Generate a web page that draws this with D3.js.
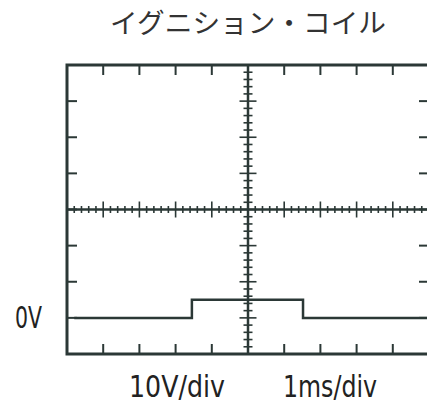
<!DOCTYPE html>
<html>
<head>
<meta charset="utf-8">
<script src="https://cdn.jsdelivr.net/npm/d3@7"></script>
<style>
  html, body { margin: 0; padding: 0; background: #fff; }
  svg { display: block; }
</style>
</head>
<body>
<div id="chart"></div>
<script>
// waveform: time in ms, voltage in V
const timeMs = [0.2, 3.45, 3.45, 6.52, 6.52, 10];
const volts = [0, 0, 5, 5, 0, 0];

const titleText = "イグニション・コイル";
const zeroLabel = "0V";
const voltDivLabel = "10V/div";
const timeDivLabel = "1ms/div";

const width = 427, height = 406;
const ink = "#2b3836";

const svg = d3.select("#chart").append("svg")
    .attr("width", width)
    .attr("height", height);

// screen is 10 x 8 divisions; 0V sits 1 div above the bottom
const x = d3.scaleLinear().domain([0, 10]).range([67, 429]);
const y = d3.scaleLinear().domain([-10, 70]).range([354, 65]);

const xMid = x(5), yMid = y(30);

// title
svg.append("text")
    .attr("x", 110).attr("y", 33)
    .attr("textLength", 276)
    .attr("lengthAdjust", "spacingAndGlyphs")
    .style("font-family", "'Noto Sans CJK JP'")
    .style("font-size", "27px")
    .attr("fill", "#333")
    .text(titleText);

const g = svg.append("g")
    .attr("stroke", ink)
    .attr("fill", "none");

// frame
g.append("rect")
    .attr("x", x(0)).attr("y", y(70))
    .attr("width", x(10) - x(0))
    .attr("height", y(-10) - y(70))
    .attr("stroke-width", 3);

// frame ticks (pointing inward)
const xDivs = d3.range(1, 10);
const yDivs = d3.range(0, 70, 10);
const tickLen = 10;

g.selectAll(".ttop").data(xDivs).join("line")
    .attr("x1", d => x(d)).attr("x2", d => x(d))
    .attr("y1", y(70)).attr("y2", y(70) + tickLen)
    .attr("stroke-width", 2);
g.selectAll(".tbot").data(xDivs).join("line")
    .attr("x1", d => x(d)).attr("x2", d => x(d))
    .attr("y1", y(-10)).attr("y2", y(-10) - tickLen)
    .attr("stroke-width", 2);
g.selectAll(".tleft").data(yDivs).join("line")
    .attr("x1", x(0)).attr("x2", x(0) + tickLen)
    .attr("y1", d => y(d)).attr("y2", d => y(d))
    .attr("stroke-width", 2);
g.selectAll(".tright").data(yDivs).join("line")
    .attr("x1", x(10)).attr("x2", x(10) - tickLen)
    .attr("y1", d => y(d)).attr("y2", d => y(d))
    .attr("stroke-width", 2);

// centre crosshair
g.append("line")
    .attr("x1", x(0)).attr("x2", x(10))
    .attr("y1", yMid).attr("y2", yMid)
    .attr("stroke-width", 2.5);
g.append("line")
    .attr("x1", xMid).attr("x2", xMid)
    .attr("y1", y(70)).attr("y2", y(-10))
    .attr("stroke-width", 2.5);

// crosshair minor ticks (5 per div)
const xSub = d3.range(1, 50).map(i => i / 5);
const ySub = d3.range(1, 40).map(i => -10 + i * 2);

g.selectAll(".hsub").data(xSub).join("line")
    .attr("x1", d => x(d)).attr("x2", d => x(d))
    .attr("y1", d => yMid - (Math.abs(d - Math.round(d)) < 1e-6 ? 8 : 3.5))
    .attr("y2", d => yMid + (Math.abs(d - Math.round(d)) < 1e-6 ? 8 : 3.5))
    .attr("stroke-width", 1.6);
g.selectAll(".vsub").data(ySub).join("line")
    .attr("y1", d => y(d)).attr("y2", d => y(d))
    .attr("x1", d => xMid - (d % 10 === 0 ? 8.5 : 4.5))
    .attr("x2", d => xMid + (d % 10 === 0 ? 8.5 : 4.5))
    .attr("stroke-width", 1.6);

// waveform
const pts = timeMs.map((t, i) => [t, volts[i]]);
const line = d3.line().x(d => x(d[0])).y(d => y(d[1]));
g.append("path")
    .datum(pts)
    .attr("d", line)
    .attr("stroke-width", 2.5);

// labels
const labelFont = "'DejaVu Sans Condensed', 'DejaVu Sans', sans-serif";
function label(txt, lx, ly, len) {
    svg.append("text")
        .attr("x", lx).attr("y", ly)
        .attr("textLength", len)
        .attr("lengthAdjust", "spacingAndGlyphs")
        .style("font-family", labelFont)
        .style("font-size", "31px")
        .attr("fill", "#222")
        .text(txt);
}
label(zeroLabel, 15, y(0) + 10, 27);
label(voltDivLabel, 129, 397, 96);
label(timeDivLabel, 283, 397, 94);
</script>
</body>
</html>
